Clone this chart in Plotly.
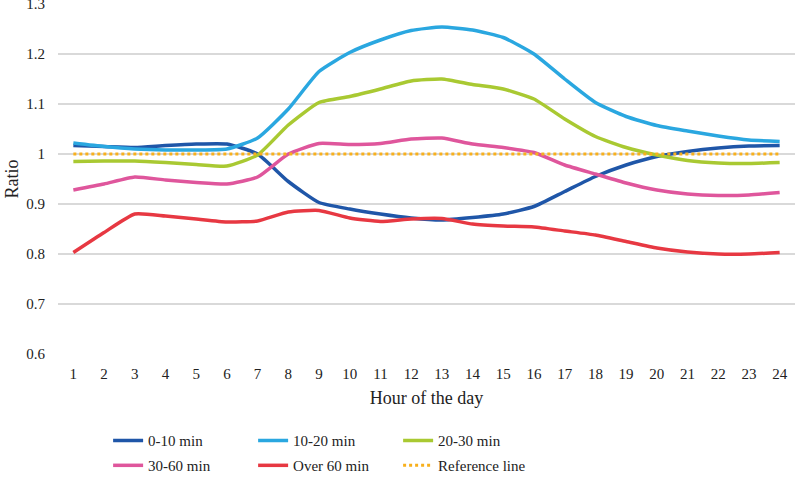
import plotly.graph_objects as go

hours = [str(h) for h in range(1, 25)]

min_0_10 = [1.017, 1.015, 1.013, 1.017, 1.020, 1.020, 1.000, 0.945, 0.903, 0.890, 0.880, 0.872,
            0.868, 0.873, 0.880, 0.895, 0.925, 0.955, 0.978, 0.995, 1.005, 1.012, 1.016, 1.017]
min_10_20 = [1.022, 1.015, 1.010, 1.008, 1.008, 1.010, 1.032, 1.090, 1.165, 1.203, 1.228, 1.247,
             1.254, 1.248, 1.233, 1.200, 1.150, 1.103, 1.075, 1.057, 1.046, 1.036, 1.028, 1.025]
min_20_30 = [0.985, 0.986, 0.986, 0.983, 0.979, 0.976, 0.998, 1.058, 1.103, 1.115, 1.130, 1.146,
             1.150, 1.139, 1.130, 1.110, 1.070, 1.035, 1.013, 0.998, 0.987, 0.982, 0.981, 0.983]
min_30_60 = [0.928, 0.940, 0.954, 0.948, 0.943, 0.940, 0.954, 1.000, 1.021, 1.019, 1.021, 1.030,
             1.032, 1.020, 1.013, 1.003, 0.978, 0.960, 0.942, 0.928, 0.920, 0.917, 0.918, 0.923]
over_60 = [0.803, 0.843, 0.880, 0.876, 0.870, 0.864, 0.866, 0.884, 0.887, 0.872, 0.865, 0.870,
           0.871, 0.860, 0.856, 0.854, 0.846, 0.838, 0.825, 0.812, 0.804, 0.800, 0.800, 0.803]
reference = [1.0] * 24

series = [
    ("0-10 min", min_0_10, "#1f56a8", "legend"),
    ("10-20 min", min_10_20, "#2aa7e0", "legend"),
    ("20-30 min", min_20_30, "#a9c932", "legend"),
    ("30-60 min", min_30_60, "#df569c", "legend2"),
    ("Over 60 min", over_60, "#e73842", "legend2"),
]

FONT = "Liberation Serif"
fig = go.Figure()
for name, vals, col, lg in series:
    fig.add_trace(go.Scatter(x=hours, y=vals, name=name, mode="lines",
                             line=dict(color=col, width=3.5, shape="spline", smoothing=0.5),
                             legend=lg))
fig.add_trace(go.Scatter(x=hours, y=reference, name="Reference line", mode="lines",
                         line=dict(color="#f8b01c", width=3, dash="dot"), legend="legend2"))

leg_common = dict(orientation="h", xanchor="left", yanchor="middle", yref="container",
                  font=dict(family=FONT, size=15, color="#222"),
                  entrywidth=100, entrywidthmode="pixels", bgcolor="rgba(0,0,0,0)")

fig.update_layout(
    width=797, height=478,
    margin=dict(l=58, r=2, t=4, b=124, autoexpand=False),
    plot_bgcolor="white", paper_bgcolor="white",
    font=dict(family=FONT, size=15, color="#222"),
    xaxis=dict(type="category", range=[-0.5, 23.5], showgrid=False, showline=False, ticks="",
               automargin=False, ticklabelstandoff=9,
               title=dict(text="Hour of the day", font=dict(size=18), standoff=10),
               tickfont=dict(size=15)),
    yaxis=dict(range=[0.6, 1.3], dtick=0.1, showgrid=True, gridcolor="#d9d9d9", gridwidth=1.5,
               zeroline=False, tickformat="~g", ticks="", showline=False, automargin=False,
               ticklabeloverflow="allow", ticklabelstandoff=12,
               title=dict(text="Ratio", font=dict(size=18), standoff=2),
               tickfont=dict(size=15)),
    legend=dict(x=0.068, y=0.078, **leg_common),
    legend2=dict(x=0.068, y=0.026, **leg_common),
)

fig.write_html("out.html", config={"displayModeBar": False},
               post_script="document.body.style.margin='0';document.body.style.overflow='hidden';")
